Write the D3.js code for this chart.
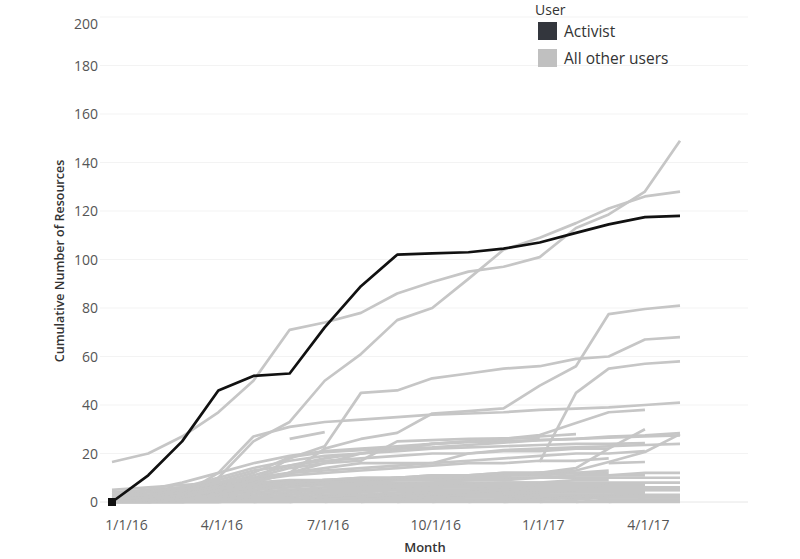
<!DOCTYPE html>
<html>
<head>
<meta charset="utf-8">
<script src="https://cdn.jsdelivr.net/npm/d3@7"></script>
<style>
  body { margin: 0; background: #fff; }
  svg { font-family: "Open Sans", "Noto Sans", sans-serif; }
</style>
</head>
<body>
<svg></svg>
<script>
var months = ["2016-01", "2016-02", "2016-03", "2016-04", "2016-05", "2016-06", "2016-07", "2016-08", "2016-09",
    "2016-10", "2016-11", "2016-12", "2017-01", "2017-02", "2017-03", "2017-04", "2017-05"];

var xTicks = ["2016-01", "2016-04", "2016-07", "2016-10", "2017-01", "2017-04"];
var yTicks = [0, 20, 40, 60, 80, 100, 120, 140, 160, 180, 200];

var legendLabels = ["Activist", "All other users"];

// the activist
var activist = [0, 11, 25, 46, 52, 53, 72, 89, 102, 102.5, 103, 104.5, 107, 111, 114.5, 117.5, 118];

// other users that climb high
var othersHigh = [
    [16.5, 20, 27, 37, 50, 71, 74, 78, 86, 90.7, 95, 97, 101, 113, 118.6, 128, 149],
    [1, 2, 4, 10, 25, 33, 50, 61, 75, 80, 92, 104, 109, 115, 121, 126, 128],
    [0, 0, 1, 3, 8, 12, 22, 26, 28.5, 36.5, 37.5, 38.6, 48, 56, 77.5, 79.6, 81],
    [0, 1, 2, 5, 9, 18, 23, 45, 46, 51, 53, 55, 56, 59, 60, 67, 68],
    [null, null, null, null, null, null, null, null, null, null, null, null, 16.5, 45, 55, 57, 58],
    [0, 1, 3, 12, 27, 31, 33, 34, 35, 36, 36.5, 37, 38, 38.5, 39, 40, 41]
];

// other users in the 10-40 range
var othersMid = [
    [3, 5, 8, 12, 16, 19, 21, 22, 23, 24, 24.7, 25, 25.5, 26, 27, 27.5, 28.4],
    [2, 4, 6, 10, 14, 17, 19, 20, 21, 22, 22.5, 23, 23.5, 24, 24, 24.3, null],
    [0, 1, 2, 4, 8, 12, 16, 20, 22, 24, 25, 26, 27.6, 32.6, 37, 38, null],
    [0, 1, 2, 3, 5, 7, 8, 9, 10, 10, 11, 11, 12, 14, 22, 30, null],
    [1, 2, 3, 4, 6, 8, 9, 10, 10, 11, 11, 12, 12, 13, 16.5, 20.6, 28],
    [null, null, null, null, null, 26, 28.8, null, null, null, null, null, null, null, null, null, null],
    [null, null, null, null, null, null, null, null, null, null, null, null, null, null, 16, 16.5, null],
    [1, 2, 4, 7, 11, 15, 18, 20, 22, 24, 25, 26, 27, 28, null, null, null],
    [1, 2, 4, 8, 12, 18.5, 20.6, 21.4, 22, 22.5, 23.5, 24.5, 25.5, 26, 26.5, 27, 27.5],
    [0, 1, 3, 6, 10, 14, 16, 17, 25, 25.5, 26, 26.2, 26.4, null, null, null, null],
    [0, 1, 2, 5, 9, 12, 14, 16, 16, 16, 20, 21.4, 22, 22.5, 23, 23.5, 24],
    [0, 2, 5, 9, 13, 15, 17, 18, 19, 20, 20, 21, 21, 22, 22, null, null],
    [2, 3, 5, 8, 10, 12, 13, 14, 15, 16, 17, 18, 19, 20, 20, 21, null],
    [null, null, 3, 6, 9, 11, 12, 13, 14, 15, 16, 16, 17, 17, 18, null, null]
];

// the crowd near the bottom
var othersLow = [
    [4, 5, 6, 7, 7, 8, 8, 8, 9, 9, 9, 10, 10, 11, 11, 12, 12],
    [5, 6, 7, 8, 8, 9, 9, 9, 10, 10, 10, 11, 11, 12, 12, null, null],
    [2, 3, 5, 7, 8, 8, 8, 9, 9, 9, 10, 10, 10, 11, 11, 11, null],
    [1, 2, 3, 5, 6, 7, 7, 8, 8, 8, 9, 9, 10, 10, 10, 10, 10],
    [0, 1, 2, 4, 5, 6, 7, 7, 7, 8, 8, 8, 8, 9, 9, null, null],
    [1, 1, 2, 3, 4, 5, 6, 6, 7, 7, 7, 8, 8, 8, 8, 8, 8],
    [0, 0, 1, 2, 3, 4, 5, 6, 6, 6, 7, 7, 7, 7, null, null, null],
    [0, 1, 1, 2, 2, 3, 4, 5, 6, 6, 6, 6, 7, 7, 7, 7, null],
    [null, 1, 2, 3, 4, 5, 5, 6, 6, 6, 7, 7, 7, 7, 7, 7, null],
    [null, null, 0, 2, 3, 4, 5, 5, 5, 6, 6, 6, 6, 6, 6, 6, 6],
    [0, 0, 0, 1, 1, 2, 3, 4, 5, 5, 5, 5, 6, 6, 6, 6, 6],
    [0, 0, 1, 1, 2, 2, 3, 3, 4, 4, 4, 5, 5, 5, 5, 5, 5],
    [null, null, null, 1, 2, 3, 4, 4, 5, 5, 5, 6, 6, 6, 6, null, null],
    [0, 0, 0, 0, 1, 1, 2, 2, 3, 3, 3, 4, 4, 4, 4, 4, null],
    [null, null, null, null, 0, 1, 2, 3, 3, 4, 4, 4, 4, 5, 5, 5, 5],
    [0, 0, 0, 1, 1, 1, 1, 2, 2, 2, 3, 3, 3, 3, 3, 3, 3],
    [null, 0, 0, 0, 1, 1, 1, 1, 2, 2, 2, 2, 2, 2, 2, 2, 2],
    [0, 0, 0, 0, 0, 0, 1, 1, 1, 1, 1, 1, 1, 2, 2, 2, 2],
    [null, null, null, null, null, 0, 1, 2, 3, 3, 3, 4, 4, 4, 4, null, null],
    [null, null, null, null, null, null, 0, 1, 2, 3, 4, 5, 6, 6, 7, 7, null],
    [null, null, null, null, null, null, null, 0, 1, 2, 3, 3, 4, 5, 5, 5, 5],
    [null, null, null, null, null, null, null, null, 0, 1, 2, 2, 3, 3, 3, 3, null],
    [null, null, null, null, null, null, null, null, null, 0, 1, 1, 2, 2, 2, null, null],
    [null, null, null, null, null, null, null, null, null, null, 0, 1, 1, 2, 2, 2, 2],
    [null, null, null, null, null, null, null, null, null, null, null, 0, 1, 2, 3, 4, null],
    [null, null, null, null, null, null, null, null, null, null, null, null, 0, 1, 2, 2, 2],
    [null, null, null, null, null, null, null, null, null, null, null, null, null, 0, 1, 1, null],
    [null, null, null, null, null, null, null, null, null, null, null, null, null, null, 0, 1, 1],
    [0, 0, 0, 0, 0, 0, 0, 0, 0, 0, 0, 0, 0, 0, 0, 0, 0],
    [3, 4, 5, 6, 7, 8, 9, 10, 10, 10, 11, 11, 12, 12, null, null, null],
    [null, 2, 4, 6, 7, 8, 9, 9, 10, 11, 11, 12, 12, 12, 13, null, null]
];

var svgWidth = 800;
var svgHeight = 559;

var parseMonth = d3.timeParse("%Y-%m");
var dates = months.map(parseMonth);

var svg = d3.select("svg")
    .attr("width", svgWidth)
    .attr("height", svgHeight);

var xScale = d3.scaleTime()
    .domain([dates[0], dates[dates.length - 1]])
    .range([112, 680]);

var yScale = d3.scaleLinear()
    .domain([0, 200])
    .range([502, 17]);

// faint gridlines
svg.append("g")
    .selectAll("line")
    .data(yTicks)
    .enter()
    .append("line")
    .attr("x1", 100)
    .attr("x2", 748)
    .attr("y1", function(d) { return yScale(d); })
    .attr("y2", function(d) { return yScale(d); })
    .attr("stroke", function(d) { return d == 0 ? "#e6e6e6" : "#f3f3f3"; })
    .attr("stroke-width", 1);

var yAxis = d3.axisLeft(yScale)
    .tickValues(yTicks)
    .tickSize(0)
    .tickPadding(2);

var yAxisG = svg.append("g")
    .attr("transform", "translate(100, 0)")
    .call(yAxis);
yAxisG.select(".domain").remove();
yAxisG.selectAll("text")
    .attr("font-size", 14)
    .attr("fill", "#555")
    .attr("font-family", "Open Sans, sans-serif")
    .attr("dy", function(d) { return d == 200 ? "0.85em" : "0.35em"; });

var xAxis = d3.axisBottom(xScale)
    .tickValues(xTicks.map(parseMonth))
    .tickFormat(d3.timeFormat("%-m/%-d/%y"))
    .tickSize(0)
    .tickPadding(18);

var xAxisG = svg.append("g")
    .attr("transform", "translate(0, 502)")
    .call(xAxis);
xAxisG.select(".domain").remove();
xAxisG.selectAll("text")
    .attr("font-size", 14)
    .attr("fill", "#555")
    .attr("font-family", "Open Sans, sans-serif")
    .attr("dx", function(d, i) { return i == 0 ? 14 : 3; });

// axis titles
svg.append("text")
    .attr("transform", "translate(64, 261) rotate(-90)")
    .attr("text-anchor", "middle")
    .attr("font-size", 12.5)
    .attr("font-weight", 600)
    .attr("fill", "#333")
    .text("Cumulative Number of Resources");

svg.append("text")
    .attr("x", 425)
    .attr("y", 552)
    .attr("text-anchor", "middle")
    .attr("font-size", 13)
    .attr("font-weight", 600)
    .attr("fill", "#333")
    .text("Month");

var line = d3.line()
    .defined(function(d) { return d != null; })
    .x(function(d, i) { return xScale(dates[i]); })
    .y(function(d) { return yScale(d); });

var others = othersLow.concat(othersMid, othersHigh);

svg.append("g")
    .selectAll("path")
    .data(others)
    .enter()
    .append("path")
    .attr("d", line)
    .attr("fill", "none")
    .attr("stroke", "#c6c6c6")
    .attr("stroke-width", 2.7)
    .attr("stroke-linejoin", "round");

svg.append("path")
    .datum(activist)
    .attr("d", line)
    .attr("fill", "none")
    .attr("stroke", "#111")
    .attr("stroke-width", 2.7)
    .attr("stroke-linejoin", "round");

svg.append("rect")
    .attr("x", xScale(dates[0]) - 4)
    .attr("y", yScale(activist[0]) - 4)
    .attr("width", 8)
    .attr("height", 8)
    .attr("fill", "#111");

// legend
var legend = svg.append("g")
    .attr("transform", "translate(535, 0)");

legend.append("text")
    .attr("x", 0)
    .attr("y", 15)
    .attr("font-size", 14)
    .attr("fill", "#333")
    .text("User");

var legendItem = legend.selectAll(".item")
    .data(legendLabels)
    .enter()
    .append("g")
    .attr("transform", function(d, i) { return "translate(3, " + (22 + i * 27) + ")"; });

legendItem.append("rect")
    .attr("width", 19)
    .attr("height", 18)
    .attr("fill", function(d, i) { return i == 0 ? "#33363d" : "#c0c0c0"; });

legendItem.append("text")
    .attr("x", 26)
    .attr("y", 15)
    .attr("font-size", 15.5)
    .attr("fill", "#333")
    .text(function(d) { return d; });
</script>
</body>
</html>
